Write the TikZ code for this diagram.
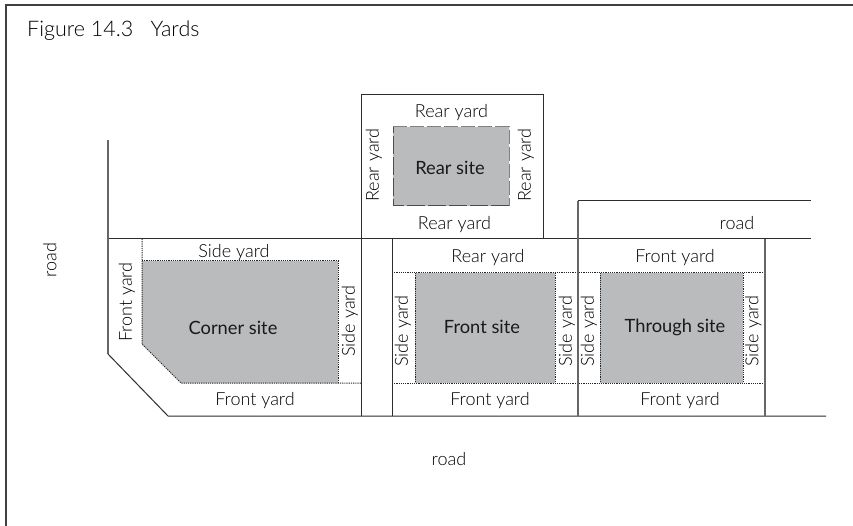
\documentclass[tikz,border=0pt]{standalone}
\usepackage{fontspec}
\setmainfont{Lato Light}
\newfontfamily\sitefont{Lato}
\definecolor{sitegray}{RGB}{186,187,189}
\definecolor{linegray}{RGB}{45,45,45}
\tikzset{
  lot/.style={draw=linegray,line width=1pt},
  graylot/.style={draw=black!60,line width=1.4pt},
  dots/.style={draw=black!85,line width=1pt,dash pattern=on 1.2pt off 1pt},
  site/.style={fill=sitegray},
  yard/.style={font=\fontsize{18}{21}\selectfont,text=black,inner sep=0pt},
  sitelabel/.style={font=\sitefont\fontsize{18.3}{21}\selectfont,text=black!90,inner sep=0pt},
  vert/.style={rotate=90}
}
\begin{document}
\begin{tikzpicture}[x=1pt,y=-1pt]
\useasboundingbox (0,0) rectangle (853,526);
% frame
\coordinate (f1) at (5.5,526);
\coordinate (f2) at (5.5,5.5);
\coordinate (f3) at (853,5.5);
\draw[draw=black!75,line width=2pt] (f1) -- (f2) -- (f3);
\node[anchor=west,font=\fontsize{21.5}{25}\selectfont,text=black,inner sep=0pt] (title) at (27,31) {Figure 14.3\hspace{0.8em}Yards};
% sites
\fill[site] (393,127) rectangle (509,206);
\fill[site] (142,261) -- (338,261) -- (338,383) -- (181,383) -- (142,344) -- cycle;
\fill[site] (415,273) rectangle (555,383);
\fill[site] (600,273) rectangle (743,383);
% rear site edge
\draw[draw=black!50,line width=1pt,dash pattern=on 14pt off 3pt] (393,127) -- (509,127) -- (509,206);
\draw[draw=black!70,line width=1pt,dash pattern=on 18pt off 3pt] (509,206) -- (393,206) -- (393,127);
% dotted
\draw[dots] (142,239) -- (142,344) -- (181,383) -- (361,383);
\draw[dots] (142,261) -- (338,261) -- (338,383);
\draw[dots] (392,273) -- (765,273);
\draw[dots] (392,383) -- (765,383);
\draw[dots] (415,273) -- (415,383);
\draw[dots] (555,273) -- (555,383);
\draw[dots] (600,273) -- (600,383);
\draw[dots] (743,273) -- (743,383);
% lot lines
\draw[lot] (361,239) -- (361,95) -- (543,95) -- (543,239);
\draw[lot] (108,239) -- (811,239);
\draw[graylot] (108,140) -- (108,354);
\draw[lot] (108,354) -- (168,416) -- (826,416);
\draw[lot] (361,239) -- (361,416);
\draw[lot] (392,239) -- (392,416);
\draw[graylot] (578,201) -- (578,416);
\draw[lot] (578,201) -- (811,201);
\draw[graylot] (765,239) -- (765,416);
% labels
\node[yard] (r1) at (451.5,112.5) {Rear yard};
\node[yard] (r2) at (454.5,225) {Rear yard};
\node[yard,vert] (r3) at (374,165) {Rear yard};
\node[yard,vert] (r4) at (526,165) {Rear yard};
\node[sitelabel] (rs) at (450,168) {Rear site};
\node[yard] (road1) at (737,223) {road};
\node[yard,vert] (road2) at (50,260) {road};
\node[yard] (road3) at (449,459) {road};
\node[yard] (s1) at (234,253) {Side yard};
\node[yard,vert] (f5) at (127,302) {Front yard};
\node[yard,vert] (s2) at (350,321) {Side yard};
\node[sitelabel] (cs) at (233,328) {Corner site};
\node[yard] (f6) at (255,400.5) {Front yard};
\node[yard] (r5) at (488,258) {Rear yard};
\node[yard,vert] (s3) at (403,331) {Side yard};
\node[yard,vert] (s4) at (567,331) {Side yard};
\node[sitelabel] (fs) at (482,327) {Front site};
\node[yard] (f7) at (490,400.5) {Front yard};
\node[yard] (f8) at (675,258) {Front yard};
\node[yard,vert] (s5) at (589,331) {Side yard};
\node[yard,vert] (s6) at (753.5,331) {Side yard};
\node[sitelabel] (ts) at (675,327) {Through site};
\node[yard] (f9) at (680,400.5) {Front yard};
\end{tikzpicture}
\end{document}
